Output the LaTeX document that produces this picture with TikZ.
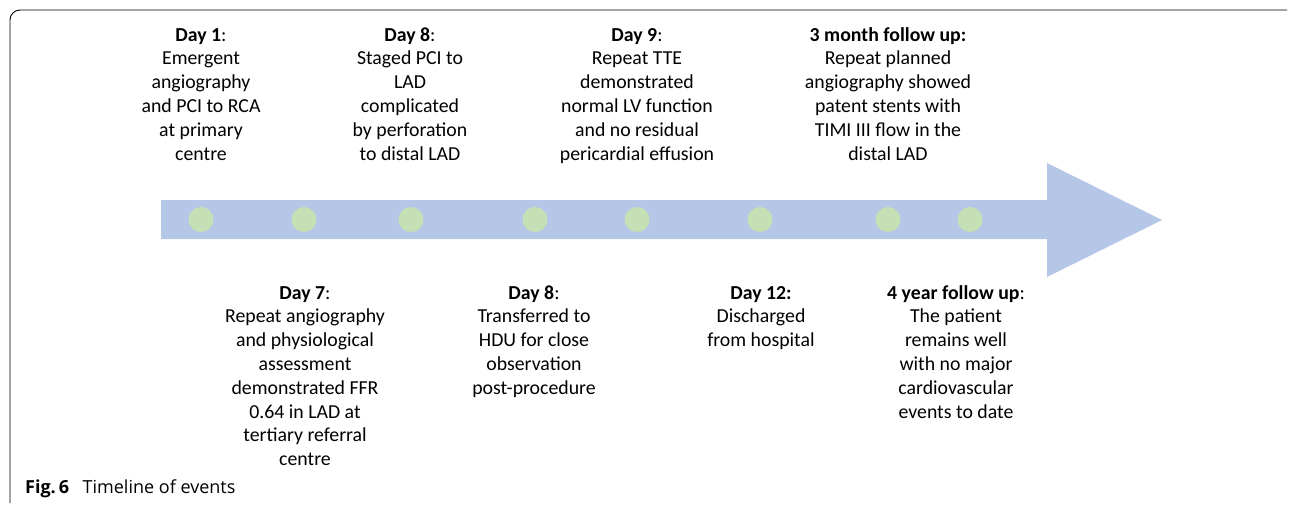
\documentclass[tikz,border=0pt]{standalone}
\usepackage{fontspec}
\setmainfont{Carlito}
\newfontfamily\capfont{Open Sans}
\definecolor{arrowblue}{HTML}{B4C7E7}
\definecolor{dotgreen}{HTML}{C5E0B4}
\begin{document}
\begin{tikzpicture}[x=1pt,y=-1pt,
  evt/.style={align=center,inner sep=0pt,anchor=base,font=\fontsize{19.8}{23.8}\selectfont},
  dot/.style={circle,fill=dotgreen,draw=none,minimum size=25pt,inner sep=0pt},
  frameline/.style={draw=black,line width=0.9pt,rounded corners=10pt}]
\useasboundingbox (0,0) rectangle (1290,504);
% frame
\draw[frameline] (10,503) -- (10,10) -- (1287,10);
% arrow
\fill[arrowblue] (161,200) -- (1047,200) -- (1047,163) -- (1162,220) -- (1047,277) -- (1047,239) -- (161,239) -- cycle;
% dots
\foreach \n/\x in {d1/201,d2/304,d3/411,d4/535,d5/637,d6/760,d7/888,d8/970}
  \node[dot] (\n) at (\x,219.5) {};
% top events (anchor = baseline of last line)
\node[evt] (e1) at (201,160) {\textbf{Day 1}:\\Emergent\\angiography\\and PCI to RCA\\at primary\\centre};
\node[evt] (e2) at (410,160) {\textbf{Day 8}:\\Staged PCI to\\LAD\\complicated\\by perforation\\to distal LAD};
\node[evt] (e3) at (637,160) {\textbf{Day 9}:\\Repeat TTE\\demonstrated\\normal LV function\\and no residual\\pericardial effusion};
\node[evt] (e4) at (888,160) {\textbf{3 month follow up:}\\Repeat planned\\angiography showed\\patent stents with\\TIMI III flow in the\\distal LAD};
% bottom events
\node[evt] (e5) at (305,465.6) {\textbf{Day 7}:\\Repeat angiography\\and physiological\\assessment\\demonstrated FFR\\0.64 in LAD at\\tertiary referral\\centre};
\node[evt] (e6) at (534,394.2) {\textbf{Day 8}:\\Transferred to\\HDU for close\\observation\\post-procedure};
\node[evt] (e7) at (761,346.6) {\textbf{Day 12:}\\Discharged\\from hospital};
\node[evt] (e8) at (956,418) {\textbf{4 year follow up}:\\The patient\\remains well\\with no major\\cardiovascular\\events to date};
% caption
\node[anchor=base west,inner sep=0pt,font=\capfont\fontsize{18}{21}\selectfont] (cap) at (25,493) {\textbf{Fig.\,6}\hspace{0.75em}Timeline of events};
\end{tikzpicture}
\end{document}
